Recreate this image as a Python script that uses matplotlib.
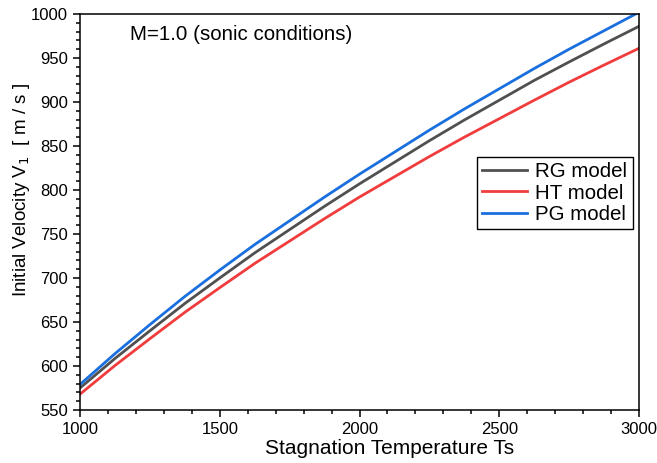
import numpy as np
import matplotlib.pyplot as plt
from matplotlib.ticker import MultipleLocator

plt.rcParams['font.family'] = ['Liberation Sans', 'DejaVu Sans']

# values
ts = [1000, 1125, 1250, 1375, 1500, 1625, 1750, 1875, 2000,
      2125, 2250, 2375, 2500, 2625, 2750, 2875, 3000]
v_rg = [575, 608.5, 640, 671, 700, 728.5, 755, 781.5, 807,
        831.5, 856, 879.5, 902, 924.5, 945.5, 966, 986]
v_ht = [568, 600.5, 631, 661, 689, 716.5, 742, 767.5, 792,
        815, 838, 860, 881, 902, 922.5, 942, 961]
v_pg = [579, 614, 647, 679, 709, 738, 765, 792, 818,
        843, 868, 892, 915, 938, 960, 981, 1002]

fig = plt.figure(figsize=(6.57, 4.63), dpi=100)
ax = fig.add_axes([0.1218, 0.1145, 0.8508, 0.8553])

ax.plot(ts, v_rg, color='#505050', lw=2.0, label='RG model')
ax.plot(ts, v_ht, color='#f03c3c', lw=2.0, label='HT model')
ax.plot(ts, v_pg, color='#1a6fdf', lw=2.0, label='PG model')

ax.set_xlim(1000, 3000)
ax.set_ylim(550, 1000)
ax.xaxis.set_major_locator(MultipleLocator(500))
ax.xaxis.set_minor_locator(MultipleLocator(100))
ax.yaxis.set_major_locator(MultipleLocator(50))
ax.yaxis.set_minor_locator(MultipleLocator(10))
ax.tick_params(which='both', direction='out', top=False, right=False, width=1.1, labelsize=12)
ax.tick_params(which='major', length=5)
ax.tick_params(which='minor', length=3)
for sp in ax.spines.values():
    sp.set_linewidth(1.1)

ax.set_xlabel('Stagnation Temperature Ts', fontsize=15, va='center')
ax.xaxis.set_label_coords(0.553, -0.098)
ax.set_ylabel('Initial Velocity V$_1$  [ m / s ]', fontsize=13.5, va='center')
ax.yaxis.set_label_coords(-0.1055, 0.556)
ax.text(0.089, 0.947, 'M=1.0 (sonic conditions)', transform=ax.transAxes,
        fontsize=14.8, va='center')

leg = ax.legend(loc='upper left', bbox_to_anchor=(0.71, 0.639), fontsize=14.8,
                fancybox=False, edgecolor='black', framealpha=1,
                handlelength=2.2, handletextpad=0.4, labelspacing=0.12,
                borderpad=0.25, borderaxespad=0)
leg.get_frame().set_linewidth(1.0)

fig.savefig('out.png', dpi=100)
